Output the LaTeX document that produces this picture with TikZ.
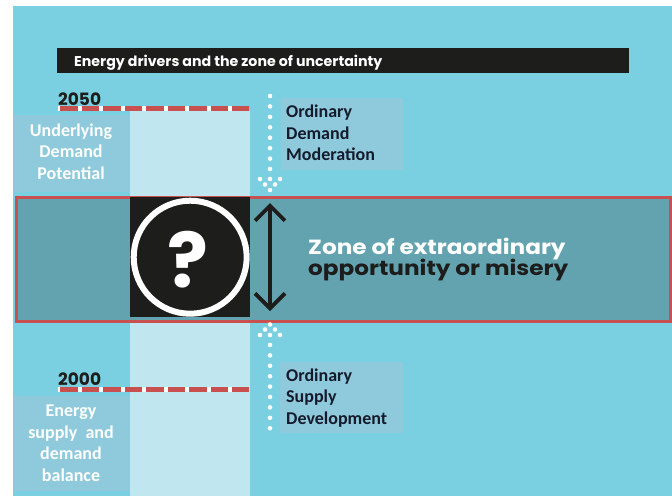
\documentclass[tikz,border=0pt]{standalone}
\usepackage{fontspec}
\setmainfont{Carlito}
\newfontfamily\futura{Poppins}
\newfontfamily\futurawide{Poppins}[FakeStretch=1.13]
\usetikzlibrary{arrows.meta}
\definecolor{bgc}{HTML}{7ACFE0}
\definecolor{lightcol}{HTML}{C0E7EF}
\definecolor{labbox}{HTML}{8ECADB}
\definecolor{zonefill}{HTML}{63A3AF}
\definecolor{redline}{HTML}{C8504E}
\definecolor{darkink}{HTML}{1D1D1B}
\definecolor{navy}{HTML}{151A2C}
\tikzset{
  labelbox/.style={fill=labbox, inner sep=0pt, anchor=north west},
  labeltext/.style={font=\bfseries\fontsize{18}{21.5}\selectfont, inner sep=0pt},
  yeartext/.style={font=\futura\bfseries\fontsize{17}{17}\selectfont, text=darkink, inner sep=0pt, anchor=base west},
  yearwhite/.style={white, line width=5pt},
  yeardash/.style={redline, line width=5pt, dash pattern=on 17.5pt off 4pt, dash phase=-2pt},
  dotline/.style={white, line width=4.6pt, line cap=round},
  dotmark/.style={white},
  zonetext/.style={font=\futurawide\bfseries\fontsize{20.5}{20.5}\selectfont, inner sep=0pt, anchor=base west},
}
\begin{document}
\begin{tikzpicture}[x=1pt,y=-1pt]
\useasboundingbox (0,0) rectangle (672,496);
\fill[white] (0,0) rectangle (672,496);
\fill[bgc] (13,6) rectangle (672,496);
% light column
\fill[lightcol] (130,111) rectangle (250,496);
% title bar
\node[fill=darkink, minimum width=572pt, minimum height=25pt, inner sep=0pt, anchor=north west] (titlebar) at (57,48) {};
\node[font=\futura\bfseries\fontsize{14.2}{14.2}\selectfont, text=white, inner sep=0pt, anchor=base west] (titletext) at (74,66.5) {Energy drivers and the zone of uncertainty};
% label boxes
\node[labelbox, minimum width=117pt, minimum height=77pt] (udpbox) at (13,115) {};
\node[labeltext, text=white, align=center] (udptext) at (71,151.5) {Underlying\\Demand\\Potential};
\node[labelbox, minimum width=122pt, minimum height=72pt] (odmbox) at (281,98) {};
\node[labeltext, text=navy, align=left, anchor=west] (odmtext) at (286,133) {Ordinary\\Demand\\Moderation};
\node[labelbox, minimum width=123pt, minimum height=71pt] (osdbox) at (280,362) {};
\node[labeltext, text=navy, align=left, anchor=west] (osdtext) at (286,398) {Ordinary\\Supply\\Development};
\node[labelbox, minimum width=117pt, minimum height=95pt] (esbox) at (13,396) {};
\node[labeltext, text=white, align=center] (estext) at (71,443) {Energy\\supply\ \ and\\demand\\balance};
% years
\node[yeartext] (y2050) at (58,105) {2050};
\coordinate (d50a) at (58,108);
\coordinate (d50b) at (249,108);
\draw[yearwhite] (d50a) -- (d50b);
\draw[yeardash] (d50a) -- (d50b);
\node[yeartext] (y2000) at (58,385.5) {2000};
\coordinate (d00a) at (58,389);
\coordinate (d00b) at (249,389);
\draw[yearwhite] (d00a) -- (d00b);
\draw[yeardash] (d00a) -- (d00b);
% zone
\node[draw=redline, line width=3pt, fill=zonefill, minimum width=654pt, minimum height=124pt, inner sep=0pt, anchor=north west] (zone) at (14.5,195.5) {};
\node[fill=darkink, minimum width=120pt, minimum height=120pt, inner sep=0pt, anchor=north west] (qbox) at (130,197) {};
\draw[white, line width=6pt] (qbox.center) circle (56.5pt);
\node[font=\futura\bfseries\fontsize{76}{76}\selectfont, text=white, inner sep=0pt, anchor=base] (qm) at (188,287.5) {?};
\coordinate (arTop) at (270,203);
\coordinate (arBot) at (270,311);
\draw[darkink, line width=3.8pt, {Straight Barb[length=15pt,width=30pt]}-{Straight Barb[length=15pt,width=30pt]}] (arTop) -- (arBot);
\node[zonetext, text=white] (zone1) at (308,254) {Zone of extraordinary};
\node[zonetext, text=darkink] (zone2) at (308,275) {opportunity or misery};
% dotted connectors
\coordinate (dtA) at (270,96);
\coordinate (dtB) at (270,169.2);
\draw[dotline, dash pattern=on 0pt off 10.43pt] (dtA) -- (dtB);
\foreach \p in {(260,179),(270,179),(280,179),(265,184.5),(275,184.5),(270,190)}
  \fill[dotmark] \p circle (2.3pt);
\coordinate (dbA) at (270,428.2);
\coordinate (dbB) at (270,345);
\draw[dotline, dash pattern=on 0pt off 10.4pt] (dbA) -- (dbB);
\foreach \p in {(270,324.5),(265,329.5),(275,329.5),(260,335),(270,335),(280,335)}
  \fill[dotmark] \p circle (2.3pt);
\end{tikzpicture}
\end{document}
